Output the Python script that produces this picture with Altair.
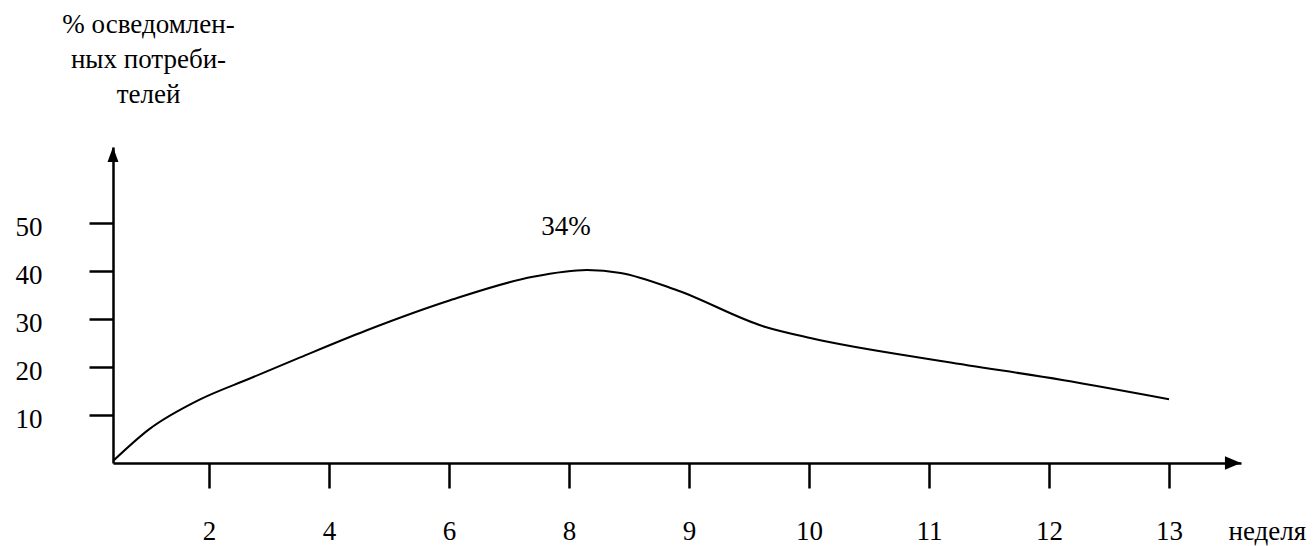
import altair as alt
import pandas as pd

# curve: position along the week axis (1 = first tick) and % of aware consumers
curve_pos = [0.2, 0.5, 0.93, 1.34, 1.76, 2.31, 3.01, 3.70, 4.15, 4.43, 4.90, 5.63, 6.02, 7.14, 8.11, 9.0]
curve_val = [0.4, 7.0, 13.3, 17.6, 22.0, 27.6, 33.9, 38.8, 40.2, 39.6, 36.0, 28.4, 26.0, 21.1, 17.3, 13.3]

tick_pos = [1, 2, 3, 4, 5, 6, 7, 8, 9]
tick_labels = ["2", "4", "6", "8", "9", "10", "11", "12", "13"]
y_ticks = [10, 20, 30, 40, 50]

peak_text = ["34%"]
peak_pos = [3.975]
peak_val = [47.5]

y_title = ["% осведомлен-", "ных потреби-", "телей"]
x_title = "неделя"

FONT = "Times New Roman, Liberation Serif, Tinos, Nimbus Roman, FreeSerif, DejaVu Serif, serif"
FS = 27

xdom = [0.2, 9.6]
ydom = [0, 65.83]
xs = alt.Scale(domain=xdom, nice=False, zero=False)
ys = alt.Scale(domain=ydom, nice=False, zero=False)

label_expr = "[" + ",".join("'%s'" % t for t in tick_labels) + "][datum.value - 1]"

x_enc = alt.X("pos:Q", scale=xs, axis=alt.Axis(
    values=tick_pos, labelExpr=label_expr, grid=False,
    domainColor="black", domainWidth=2.5, tickColor="black", tickWidth=2.5,
    tickSize=25, labelPadding=51, labelBaseline="alphabetic",
    labelFont=FONT, labelFontSize=FS, labelColor="black",
    title=x_title, titleFont=FONT, titleFontSize=FS, titleFontWeight="normal",
    titleColor="black", titleAlign="left", titleBaseline="alphabetic",
    titleX=1115, titleY=76, titleAngle=0))
y_enc = alt.Y("val:Q", scale=ys, axis=alt.Axis(
    values=y_ticks, grid=False,
    domainColor="black", domainWidth=2.5, tickColor="black", tickWidth=2.5,
    tickSize=24, labelPadding=47, labelAlign="right", labelBaseline="alphabetic",
    labelOffset=13,
    labelFont=FONT, labelFontSize=FS, labelColor="black",
    title=y_title, titleFont=FONT, titleFontSize=FS, titleFontWeight="normal",
    titleColor="black", titleAlign="center", titleBaseline="alphabetic",
    titleAngle=0, titleX=35, titleY=-115, titleLineHeight=35))

df = pd.DataFrame({"pos": curve_pos, "val": curve_val})

line = alt.Chart(df).mark_line(color="black", strokeWidth=2, interpolate="monotone").encode(
    x=x_enc, y=y_enc,
)

peak = alt.Chart(pd.DataFrame({"pos": peak_pos, "val": peak_val, "t": peak_text})).mark_text(
    font=FONT, fontSize=FS, color="black", align="center", baseline="alphabetic"
).encode(x=x_enc, y=y_enc, text="t:N")

up_arrow = alt.Chart(pd.DataFrame({"pos": [0.2], "val": [64.27]})).mark_point(
    shape="M0,-1L0.73,1L-0.73,1Z", size=225, filled=True, color="black", opacity=1
).encode(x=x_enc, y=y_enc)

right_arrow = alt.Chart(pd.DataFrame({"pos": [9.533], "val": [0]})).mark_point(
    shape="M1,0L-1,0.85L-1,-0.85Z", size=256, filled=True, color="black", opacity=1
).encode(x=x_enc, y=y_enc)

chart = alt.layer(line, peak, up_arrow, right_arrow).properties(
    width=1128, height=316,
    autosize=alt.AutoSizeParams(type="none"),
    padding={"left": 105, "top": 139, "right": 66, "bottom": 83},
    background="white",
).configure_view(stroke=None)

chart.save("out.html", embed_options={"renderer": "svg", "actions": False})
